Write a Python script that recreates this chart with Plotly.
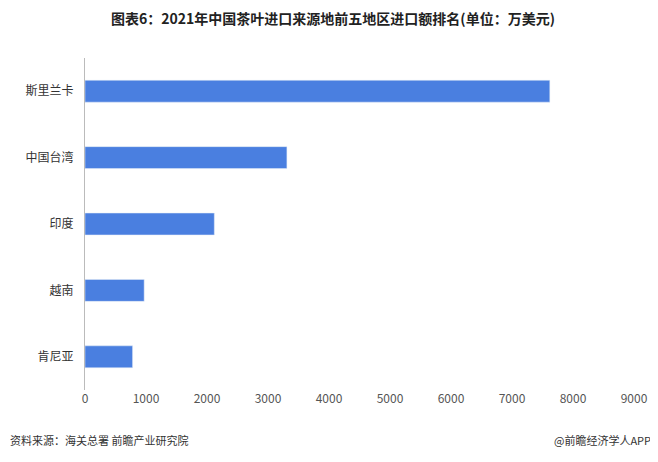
import plotly.graph_objects as go

regions = ["斯里兰卡", "中国台湾", "印度", "越南", "肯尼亚"]
values = [7620, 3310, 2120, 970, 780]
tick_vals = [0, 1000, 2000, 3000, 4000, 5000, 6000, 7000, 8000, 9000]

fig = go.Figure(go.Bar(
    y=regions, x=values, orientation="h",
    marker_color="#4a7fe0", width=0.33,
))
fig.update_layout(
    width=650, height=454,
    margin=dict(l=77, r=24, t=50, b=72, autoexpand=False),
    plot_bgcolor="white", paper_bgcolor="white",
    font=dict(family="Noto Sans CJK SC", size=12, color="#333"),
    title=dict(text="<b>图表6：2021年中国茶叶进口来源地前五地区进口额排名(单位：万美元)</b>",
               x=0.5, xanchor="center", y=0.975, yanchor="middle",
               font=dict(size=14, color="#222")),
    showlegend=False,
)
fig.update_xaxes(range=[0, 9000], tickvals=tick_vals, showgrid=False, automargin=False,
                 zeroline=False, ticks="", tickfont=dict(size=12, color="#555"))
fig.update_yaxes(autorange="reversed", showline=True, linecolor="#bbb", automargin=False,
                 ticks="", ticklabelstandoff=8, tickfont=dict(size=12, color="#333"))
fig.add_annotation(text="资料来源：海关总署 前瞻产业研究院", xref="paper", yref="paper",
                   x=-0.14, y=-0.15, xanchor="left", yanchor="middle", showarrow=False,
                   font=dict(size=11, color="#333"))
fig.add_annotation(text="@前瞻经济学人APP", xref="paper", yref="paper",
                   x=1.035, y=-0.15, xanchor="right", yanchor="middle", showarrow=False,
                   font=dict(size=11, color="#333"))
fig.write_html("out.html")
